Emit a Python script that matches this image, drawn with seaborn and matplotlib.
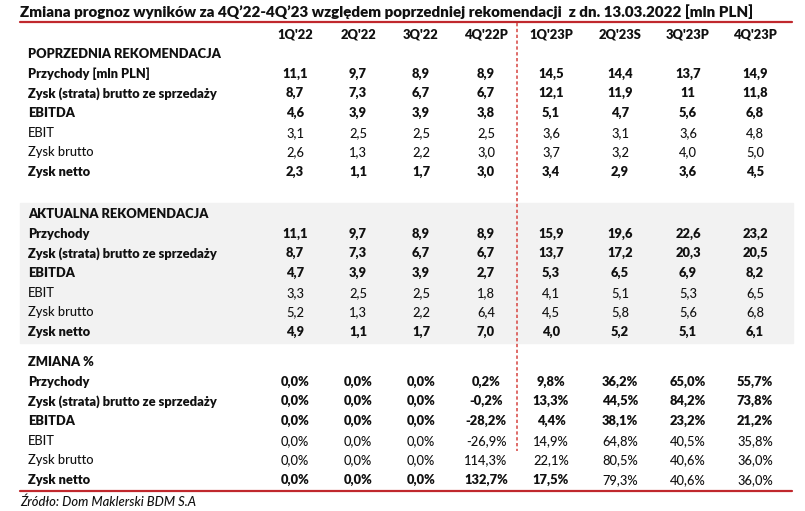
import matplotlib.pyplot as plt
import seaborn as sns

sns.set_theme(style='white')
plt.rcParams['font.family'] = ['Lato', 'DejaVu Sans']

title = 'Zmiana prognoz wyników za 4Q’22-4Q’23 względem poprzedniej rekomendacji  z dn. 13.03.2022 [mln PLN]'
source = 'Źródło: Dom Maklerski BDM S.A'
quarters = ["1Q'22", "2Q'22", "3Q'22", "4Q'22P", "1Q'23P", "2Q'23S", "3Q'23P", "4Q'23P"]

labels_prev = ['Przychody [mln PLN]', 'Zysk (strata) brutto ze sprzedaży', 'EBITDA', 'EBIT', 'Zysk brutto', 'Zysk netto']
labels = ['Przychody', 'Zysk (strata) brutto ze sprzedaży', 'EBITDA', 'EBIT', 'Zysk brutto', 'Zysk netto']
row_bold = [True, True, True, False, False, True]

prev_rec = [
    ['11,1', '9,7', '8,9', '8,9', '14,5', '14,4', '13,7', '14,9'],
    ['8,7', '7,3', '6,7', '6,7', '12,1', '11,9', '11', '11,8'],
    ['4,6', '3,9', '3,9', '3,8', '5,1', '4,7', '5,6', '6,8'],
    ['3,1', '2,5', '2,5', '2,5', '3,6', '3,1', '3,6', '4,8'],
    ['2,6', '1,3', '2,2', '3,0', '3,7', '3,2', '4,0', '5,0'],
    ['2,3', '1,1', '1,7', '3,0', '3,4', '2,9', '3,6', '4,5'],
]
curr_rec = [
    ['11,1', '9,7', '8,9', '8,9', '15,9', '19,6', '22,6', '23,2'],
    ['8,7', '7,3', '6,7', '6,7', '13,7', '17,2', '20,3', '20,5'],
    ['4,7', '3,9', '3,9', '2,7', '5,3', '6,5', '6,9', '8,2'],
    ['3,3', '2,5', '2,5', '1,8', '4,1', '5,1', '5,3', '6,5'],
    ['5,2', '1,3', '2,2', '6,4', '4,5', '5,8', '5,6', '6,8'],
    ['4,9', '1,1', '1,7', '7,0', '4,0', '5,2', '5,1', '6,1'],
]
change_pct = [
    ['0,0%', '0,0%', '0,0%', '0,2%', '9,8%', '36,2%', '65,0%', '55,7%'],
    ['0,0%', '0,0%', '0,0%', '-0,2%', '13,3%', '44,5%', '84,2%', '73,8%'],
    ['0,0%', '0,0%', '0,0%', '-28,2%', '4,4%', '38,1%', '23,2%', '21,2%'],
    ['0,0%', '0,0%', '0,0%', '-26,9%', '14,9%', '64,8%', '40,5%', '35,8%'],
    ['0,0%', '0,0%', '0,0%', '114,3%', '22,1%', '80,5%', '40,6%', '36,0%'],
    ['0,0%', '0,0%', '0,0%', '132,7%', '17,5%', '79,3%', '40,6%', '36,0%'],
]
# last row of ZMIANA % is bold only in first six columns
change_last_bold = [True, True, True, True, True, False, False, False]

red = '#c0282d'
ink = '#111111'
fig = plt.figure(figsize=(8.05, 5.11), dpi=100)
ax = fig.add_axes([0, 0, 1, 1])
ax.set_xlim(0, 805)
ax.set_ylim(511, 0)
ax.axis('off')

col_x = [295, 358, 421, 486, 551, 620, 688, 755]
label_x = 28
fs = 9.3
BOLD = 'heavy'
NORM = 'medium'

ax.text(20, 12, title, fontsize=10.9, fontweight=BOLD, va='center', ha='left', color=ink)
ax.plot([20, 792], [22, 22], color=red, lw=1.6)

for x, q in zip(col_x, quarters):
    ax.text(x, 34, q, fontsize=fs, fontweight=BOLD, ha='center', va='center', color=ink)

ax.add_patch(plt.Rectangle((20, 203), 773, 140, color='#f2f2f2', zorder=0))


def block(y0, head, names, values, last_bold=None):
    ax.text(label_x, y0, head, fontsize=fs, fontweight=BOLD, va='center', color=ink)
    for i, (name, vals) in enumerate(zip(names, values)):
        y = y0 + 19.7 * (i + 1)
        w = BOLD if row_bold[i] else NORM
        ax.text(label_x, y, name, fontsize=fs, fontweight=w, va='center', color=ink)
        for j, (x, v) in enumerate(zip(col_x, vals)):
            wv = w
            if last_bold is not None and i == len(names) - 1:
                wv = BOLD if last_bold[j] else NORM
            ax.text(x, y, v, fontsize=fs, fontweight=wv, ha='center', va='center', color=ink)


block(54, 'POPRZEDNIA REKOMENDACJA', labels_prev, prev_rec)
block(214, 'AKTUALNA REKOMENDACJA', labels, curr_rec)
block(362, 'ZMIANA %', labels, change_pct, change_last_bold)

ax.plot([517, 517], [23, 451], color='#d9534f', lw=1.2, ls=(0, (2, 1.5)))
ax.plot([20, 792], [491, 491], color=red, lw=1.6)
ax.text(20, 502, source, fontsize=9.4, style='italic', fontweight=NORM, va='center', color=ink)

fig.savefig('out.png', dpi=100)
